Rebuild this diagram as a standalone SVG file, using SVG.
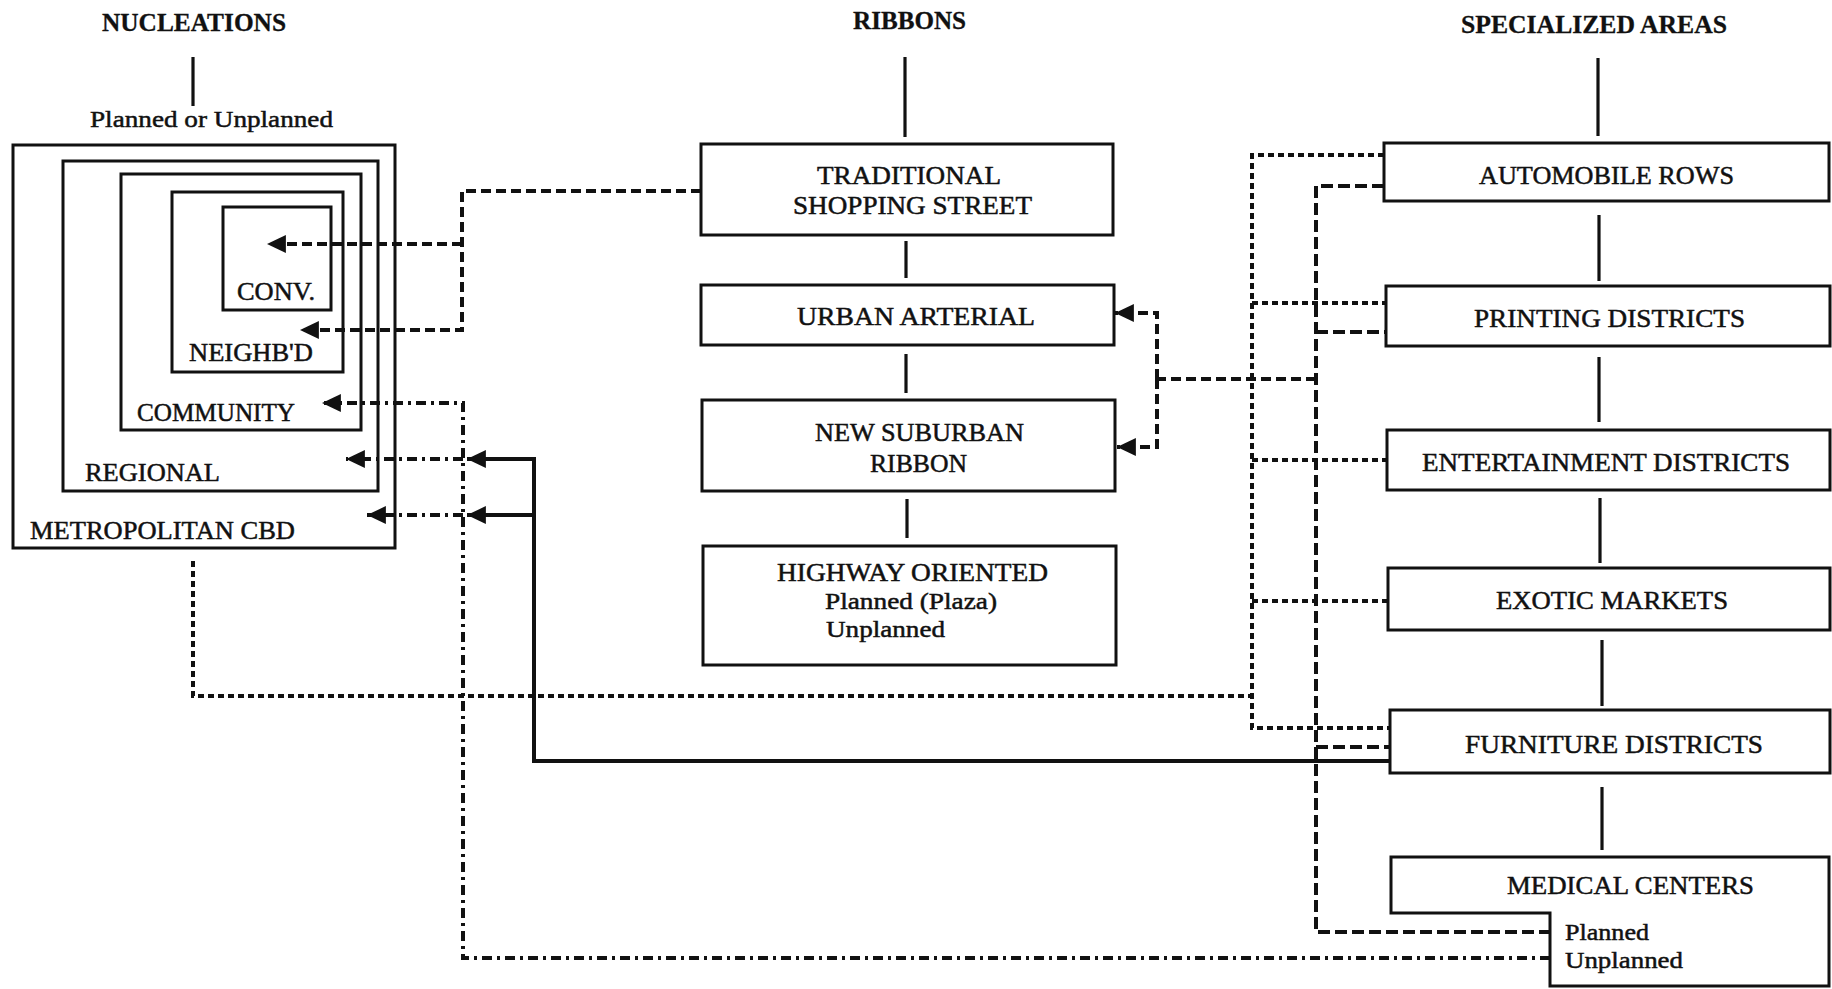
<svg xmlns="http://www.w3.org/2000/svg" width="1832" height="989" viewBox="0 0 1832 989">
<style>
  text { font-family: "Liberation Serif", "Times New Roman", serif; fill: #111; stroke: #111; stroke-width: 0.5; }
  .hdr { font-size: 25px; font-weight: bold; stroke-width: 0.3; }
  .lbl { font-size: 26px; }
  .sub { font-size: 24px; }
  .box { fill: none; stroke: #111; stroke-width: 3; }
  .tie { fill: none; stroke: #111; stroke-width: 3.2; }
  .c { fill: none; stroke: #111; stroke-width: 4; }
  .dash { stroke-dasharray: 10 5; }
  .dashdot { stroke-dasharray: 10 5 3 5; }
  .short { stroke-dasharray: 6 4; }
  .long { stroke-dasharray: 12 5; }
</style>
<defs>
  <marker id="arr" markerUnits="userSpaceOnUse" markerWidth="20" markerHeight="20" viewBox="0 -9 18 18" refX="17" refY="0" orient="auto">
    <path d="M0,-8 L17,0 L0,8 Z" fill="#111"/>
  </marker>
</defs>
<rect width="1832" height="989" fill="#fff"/>

<g id="headers">
  <text class="hdr" x="102" y="31" textLength="184" lengthAdjust="spacingAndGlyphs">NUCLEATIONS</text>
  <text class="hdr" x="853" y="29" textLength="113" lengthAdjust="spacingAndGlyphs">RIBBONS</text>
  <text class="hdr" x="1461" y="33" textLength="266" lengthAdjust="spacingAndGlyphs">SPECIALIZED AREAS</text>
  <text class="sub" x="90" y="127" textLength="243" lengthAdjust="spacingAndGlyphs">Planned or Unplanned</text>
</g>

<g id="hierarchy-lines">
  <line class="tie" x1="193" y1="57" x2="193" y2="106"/>
  <line class="tie" x1="905" y1="57" x2="905" y2="137"/>
  <line class="tie" x1="906" y1="241" x2="906" y2="278"/>
  <line class="tie" x1="906" y1="354" x2="906" y2="393"/>
  <line class="tie" x1="907" y1="499" x2="907" y2="538"/>
  <line class="tie" x1="1598" y1="58" x2="1598" y2="136"/>
  <line class="tie" x1="1599" y1="215" x2="1599" y2="281"/>
  <line class="tie" x1="1599" y1="357" x2="1599" y2="422"/>
  <line class="tie" x1="1600" y1="498" x2="1600" y2="563"/>
  <line class="tie" x1="1602" y1="640" x2="1602" y2="706"/>
  <line class="tie" x1="1602" y1="787" x2="1602" y2="850"/>
</g>

<g id="metropolitan-cbd">
  <rect class="box" x="13" y="145" width="382" height="403"/>
  <text class="lbl" x="30" y="539" textLength="265" lengthAdjust="spacingAndGlyphs">METROPOLITAN CBD</text>
</g>
<g id="regional">
  <rect class="box" x="63" y="161" width="315" height="330"/>
  <text class="lbl" x="85" y="481" textLength="135" lengthAdjust="spacingAndGlyphs">REGIONAL</text>
</g>
<g id="community">
  <rect class="box" x="121" y="174" width="240" height="256"/>
  <text class="lbl" x="137" y="421" textLength="158" lengthAdjust="spacingAndGlyphs">COMMUNITY</text>
</g>
<g id="neighbd">
  <rect class="box" x="172" y="192" width="171" height="180"/>
  <text class="lbl" x="189" y="361" textLength="124" lengthAdjust="spacingAndGlyphs">NEIGHB'D</text>
</g>
<g id="conv">
  <rect class="box" x="223" y="207" width="108" height="103"/>
  <text class="lbl" x="237" y="300" textLength="78" lengthAdjust="spacingAndGlyphs">CONV.</text>
</g>

<g id="traditional">
  <rect class="box" x="701" y="144" width="412" height="91"/>
  <text class="lbl" x="817" y="184" textLength="184" lengthAdjust="spacingAndGlyphs">TRADITIONAL</text>
  <text class="lbl" x="793" y="214" textLength="239" lengthAdjust="spacingAndGlyphs">SHOPPING STREET</text>
</g>
<g id="urban-arterial">
  <rect class="box" x="701" y="285" width="413" height="60"/>
  <text class="lbl" x="797" y="325" textLength="238" lengthAdjust="spacingAndGlyphs">URBAN ARTERIAL</text>
</g>
<g id="new-suburban">
  <rect class="box" x="702" y="400" width="413" height="91"/>
  <text class="lbl" x="815" y="441" textLength="209" lengthAdjust="spacingAndGlyphs">NEW SUBURBAN</text>
  <text class="lbl" x="870" y="472" textLength="97" lengthAdjust="spacingAndGlyphs">RIBBON</text>
</g>
<g id="highway">
  <rect class="box" x="703" y="546" width="413" height="119"/>
  <text class="lbl" x="777" y="581" textLength="271" lengthAdjust="spacingAndGlyphs">HIGHWAY ORIENTED</text>
  <text class="sub" x="825" y="609" textLength="172" lengthAdjust="spacingAndGlyphs">Planned (Plaza)</text>
  <text class="sub" x="826" y="637" textLength="119" lengthAdjust="spacingAndGlyphs">Unplanned</text>
</g>

<g id="automobile">
  <rect class="box" x="1384" y="143" width="445" height="58"/>
  <text class="lbl" x="1479" y="184" textLength="255" lengthAdjust="spacingAndGlyphs">AUTOMOBILE ROWS</text>
</g>
<g id="printing">
  <rect class="box" x="1386" y="286" width="444" height="60"/>
  <text class="lbl" x="1474" y="327" textLength="271" lengthAdjust="spacingAndGlyphs">PRINTING DISTRICTS</text>
</g>
<g id="entertainment">
  <rect class="box" x="1387" y="430" width="443" height="60"/>
  <text class="lbl" x="1422" y="471" textLength="368" lengthAdjust="spacingAndGlyphs">ENTERTAINMENT DISTRICTS</text>
</g>
<g id="exotic">
  <rect class="box" x="1388" y="568" width="442" height="62"/>
  <text class="lbl" x="1496" y="609" textLength="232" lengthAdjust="spacingAndGlyphs">EXOTIC MARKETS</text>
</g>
<g id="furniture">
  <rect class="box" x="1390" y="710" width="440" height="63"/>
  <text class="lbl" x="1465" y="753" textLength="298" lengthAdjust="spacingAndGlyphs">FURNITURE DISTRICTS</text>
</g>
<g id="medical">
  <path class="box" d="M1391,857 H1829 V986 H1550 V913 H1391 Z"/>
  <text class="lbl" x="1507" y="894" textLength="247" lengthAdjust="spacingAndGlyphs">MEDICAL CENTERS</text>
  <text class="sub" x="1565" y="940" textLength="84" lengthAdjust="spacingAndGlyphs">Planned</text>
  <text class="sub" x="1565" y="968" textLength="118" lengthAdjust="spacingAndGlyphs">Unplanned</text>
</g>

<g id="connectors">
  <!-- traditional shopping street to conv / neighb'd -->
  <path class="c dash" d="M701,191 H462 V330 H300" marker-end="url(#arr)"/>
  <path class="c dash" d="M462,244 H267" marker-end="url(#arr)"/>
  <!-- to urban arterial / new suburban ribbon -->
  <path class="c dash" d="M1316,379 H1157"/>
  <path class="c dash" d="M1157,379 V313 H1115" marker-end="url(#arr)"/>
  <path class="c dash" d="M1157,379 V447 H1117" marker-end="url(#arr)"/>
  <!-- medical unplanned (dash-dot) -->
  <path class="c dashdot" d="M1550,958 H463 V403 H322" marker-end="url(#arr)"/>
  <path class="c dashdot" d="M463,459 H346" marker-end="url(#arr)"/>
  <path class="c dashdot" d="M463,515 H367" marker-end="url(#arr)"/>
  <!-- furniture (solid) -->
  <path class="c" d="M1390,761 H534 V459 H467" marker-end="url(#arr)"/>
  <path class="c" d="M534,515 H467" marker-end="url(#arr)"/>
  <!-- outer short-dash spine -->
  <path class="c short" d="M1384,155 H1252 V728 H1390"/>
  <path class="c short" d="M1252,303 H1386"/>
  <path class="c short" d="M1252,460 H1387"/>
  <path class="c short" d="M1252,601 H1388"/>
  <path class="c short" d="M193,561 V696 H1252"/>
  <!-- inner long-dash spine -->
  <path class="c long" d="M1384,186 H1316 V932 H1550"/>
  <path class="c long" d="M1316,332 H1386"/>
  <path class="c long" d="M1316,747 H1390"/>
</g>
</svg>
